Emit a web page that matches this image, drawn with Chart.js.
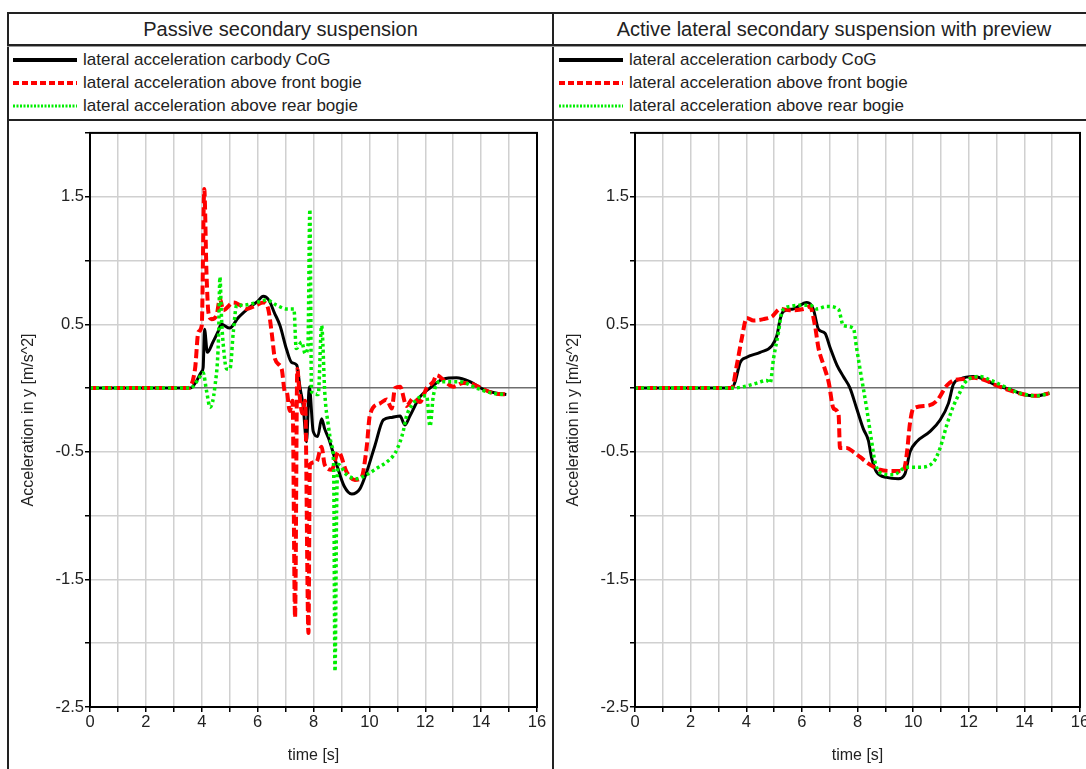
<!DOCTYPE html>
<html>
<head>
<meta charset="utf-8">
<script src="https://cdn.jsdelivr.net/npm/chart.js@4.4.1/dist/chart.umd.min.js"></script>
<style>
html, body { margin:0; padding:0; background:#fff; overflow:hidden; width:1086px; height:769px; }
body { position:relative; font-family:"Liberation Sans", Arial, sans-serif; color:#222; }
.ln { position:absolute; background:#222; }
.title { position:absolute; top:14px; height:30px; line-height:30px; text-align:center; font-size:20px; white-space:nowrap; }
.legend { position:absolute; top:48px; }
.legend .row { height:23px; font-size:17px; white-space:nowrap; display:flex; align-items:center; }
.legend svg { margin-right:6px; }
canvas { position:absolute; top:122px; }
</style>
</head>
<body>
<div class="ln" style="left:7px;top:12px;width:1100px;height:2px"></div>
<div class="ln" style="left:7px;top:12px;width:2px;height:800px"></div>
<div class="ln" style="left:552px;top:12px;width:2px;height:800px"></div>
<div class="ln" style="left:7px;top:44px;width:1100px;height:2px"></div>
<div class="ln" style="left:7px;top:46px;width:1100px;height:1px;background:#999"></div>
<div class="ln" style="left:7px;top:119px;width:1100px;height:2px"></div>

<div class="title" id="title0" style="left:9px;width:543px"></div>
<div class="title" id="title1" style="left:554px;width:560px"></div>
<div class="legend" id="legend0" style="left:13px"></div>
<div class="legend" id="legend1" style="left:559px"></div>

<canvas id="passive" width="542" height="647" style="left:10px;width:542px;height:647px"></canvas>
<canvas id="active" width="580" height="647" style="left:555px;width:580px;height:647px"></canvas>

<script>
// Подписи и оформление серий
var panelTitles = ['Passive secondary suspension', 'Active lateral secondary suspension with preview'];
var seriesNames = ['lateral acceleration carbody CoG', 'lateral acceleration above front bogie', 'lateral acceleration above rear bogie'];
var seriesColors = ['#000000', '#ff0000', '#00ee00'];

// Пассивная подвеска ----------------------------------------------------------------------------------------------
var passiveCogT = [0, 3.6, 3.8, 4.0, 4.05, 4.1, 4.2, 4.4, 4.58, 4.7, 5.0, 5.3, 5.7, 6.0, 6.2, 6.4, 6.6, 6.8, 7.04, 7.22, 7.4, 7.52, 7.63, 7.75, 7.85, 7.99, 8.15, 8.29, 8.4, 8.55, 8.83, 9.1, 9.37, 9.66, 9.9, 10.2, 10.5, 10.8, 11.1, 11.27, 11.45, 11.81, 12.17, 12.64, 13.12, 13.6, 14.08, 14.55, 14.9];
var passiveCogY = [0, 0, 0.05, 0.13, 0.16, 0.46, 0.28, 0.36, 0.44, 0.50, 0.47, 0.55, 0.63, 0.68, 0.72, 0.69, 0.59, 0.49, 0.30, 0.20, 0.18, 0.0, -0.14, -0.42, 0.01, -0.34, -0.38, -0.24, -0.32, -0.40, -0.60, -0.77, -0.83, -0.79, -0.66, -0.45, -0.25, -0.23, -0.22, -0.29, -0.22, -0.07, 0.0, 0.07, 0.08, 0.05, -0.01, -0.04, -0.05];

var passiveFrontT = [0, 3.5, 3.76, 3.88, 4.0, 4.09, 4.17, 4.24, 4.35, 4.53, 4.65, 4.77, 5.13, 5.37, 5.6, 5.96, 6.2, 6.38, 6.5, 6.62, 6.86, 6.98, 7.04, 7.15, 7.25, 7.34, 7.42, 7.5, 7.6, 7.7, 7.82, 7.87, 8.1, 8.29, 8.4, 8.65, 8.89, 9.19, 9.48, 9.72, 9.9, 10.02, 10.38, 10.62, 10.8, 10.92, 11.1, 11.33, 11.57, 11.81, 12.05, 12.29, 12.4, 12.77, 13.0, 13.36, 13.7, 14.0, 14.43, 14.9];
var passiveFrontY = [0, 0, 0.15, 0.44, 0.49, 1.56, 0.9, 0.59, 0.54, 0.57, 0.70, 0.61, 0.67, 0.65, 0.62, 0.65, 0.67, 0.62, 0.44, 0.23, 0.15, -0.03, -0.03, -0.18, -0.1, -1.80, 0.15, -0.05, -0.2, -0.1, -1.92, -0.60, -0.58, -0.46, -0.6, -0.64, -0.5, -0.66, -0.72, -0.70, -0.47, -0.21, -0.12, -0.09, -0.16, 0.0, 0.01, -0.14, -0.08, -0.11, 0.0, 0.05, 0.1, 0.04, 0.01, 0.04, 0.03, 0.0, -0.04, -0.05];

var passiveRearT = [0, 3.6, 3.88, 4.05, 4.17, 4.3, 4.47, 4.6, 4.65, 4.71, 4.77, 4.89, 5.01, 5.13, 5.25, 5.49, 5.96, 6.32, 6.68, 7.04, 7.3, 7.38, 7.58, 7.7, 7.8, 7.87, 7.93, 8.17, 8.29, 8.41, 8.53, 8.65, 8.72, 8.77, 8.83, 8.89, 9.19, 9.54, 9.9, 10.26, 10.62, 10.92, 11.1, 11.21, 11.33, 11.57, 11.81, 12.05, 12.17, 12.29, 12.53, 13.24, 13.83, 14.4, 14.9];
var passiveRearY = [0, 0, 0.07, 0.12, -0.02, -0.15, 0.01, 0.39, 0.87, 0.54, 0.34, 0.15, 0.15, 0.44, 0.65, 0.65, 0.67, 0.69, 0.65, 0.62, 0.62, 0.31, 0.36, 0.27, 0.33, 1.40, -0.03, -0.05, 0.49, -0.06, -0.29, -0.45, -0.6, -2.22, -0.9, -0.60, -0.68, -0.71, -0.68, -0.63, -0.58, -0.51, -0.42, -0.34, -0.22, -0.12, -0.07, -0.06, -0.30, -0.06, 0.05, 0.05, 0.0, -0.04, -0.05];

// Активная подвеска с предуправлением --------------------------------------------------------------------------------
var activeCogT = [0, 3.48, 3.6, 3.78, 4.0, 4.5, 4.92, 5.1, 5.22, 5.33, 5.69, 6.18, 6.41, 6.6, 6.83, 7.01, 7.26, 7.49, 7.73, 7.97, 8.21, 8.39, 8.51, 8.69, 9.05, 9.47, 9.71, 9.89, 10.13, 10.61, 10.97, 11.27, 11.45, 11.69, 12.17, 12.53, 13.01, 13.49, 13.97, 14.45, 14.9];
var activeCogY = [0, 0, 0.05, 0.2, 0.24, 0.28, 0.33, 0.41, 0.54, 0.6, 0.62, 0.67, 0.62, 0.46, 0.43, 0.32, 0.18, 0.09, 0.0, -0.16, -0.32, -0.41, -0.55, -0.66, -0.70, -0.71, -0.67, -0.5, -0.42, -0.34, -0.25, -0.12, 0.03, 0.07, 0.09, 0.07, 0.02, -0.01, -0.05, -0.06, -0.04];

var activeFrontT = [0, 3.48, 3.66, 3.84, 4.02, 4.26, 4.62, 4.92, 5.22, 5.57, 6.06, 6.29, 6.47, 6.6, 6.78, 6.96, 7.14, 7.32, 7.37, 7.61, 7.85, 8.09, 8.45, 8.81, 9.29, 9.65, 9.77, 9.89, 10.01, 10.49, 10.85, 11.21, 11.45, 11.8, 12.2, 12.6, 13.0, 13.5, 14.0, 14.45, 14.9];
var activeFrontY = [0, 0, 0.18, 0.39, 0.55, 0.53, 0.54, 0.56, 0.62, 0.61, 0.62, 0.64, 0.49, 0.31, 0.18, 0.05, -0.16, -0.21, -0.47, -0.47, -0.50, -0.54, -0.60, -0.64, -0.65, -0.65, -0.52, -0.27, -0.16, -0.14, -0.10, 0.02, 0.06, 0.07, 0.08, 0.06, 0.02, -0.02, -0.05, -0.06, -0.04];

var activeRearT = [0, 3.48, 3.9, 4.4, 4.74, 4.86, 4.98, 5.16, 5.28, 5.58, 5.94, 6.3, 6.53, 6.9, 7.31, 7.49, 7.85, 7.97, 8.09, 8.33, 8.51, 8.63, 8.87, 9.29, 9.77, 10.25, 10.73, 10.97, 11.21, 11.45, 11.69, 11.85, 12.41, 12.8, 13.2, 13.6, 14.0, 14.45, 14.9];
var activeRearY = [0, 0, 0.01, 0.04, 0.06, 0.04, 0.23, 0.44, 0.60, 0.64, 0.65, 0.65, 0.62, 0.64, 0.62, 0.49, 0.47, 0.31, 0.15, -0.16, -0.42, -0.58, -0.67, -0.68, -0.62, -0.62, -0.58, -0.47, -0.29, -0.14, -0.03, 0.04, 0.09, 0.06, 0.02, -0.02, -0.05, -0.06, -0.04];

var fontFamily = '"Liberation Sans", Arial, sans-serif';
var lineWidths = [3, 4, 3.5];
var lineDashes = [[], [9, 4], [3, 3]];
var legendDashes = ['', '6,3', '2,1.5'];

function points(t, v) {
    return t.map(function (x, i) { return {x: x, y: v[i]}; });
}

// Заголовки и легенды ---------------------------------------------------------------------------------------------
[0, 1].forEach(function (p) {
    document.getElementById('title' + p).textContent = panelTitles[p];
    var box = document.getElementById('legend' + p);
    seriesNames.forEach(function (name, i) {
        var row = document.createElement('div');
        row.className = 'row';
        row.innerHTML = '<svg width="64" height="8"><line x1="0" y1="4" x2="64" y2="4" stroke="' + seriesColors[i] +
            '" stroke-width="' + (i === 2 ? 3 : 4) + '"' + (legendDashes[i] ? ' stroke-dasharray="' + legendDashes[i] + '"' : '') +
            '/></svg><span>' + name + '</span>';
        box.appendChild(row);
    });
});

// Рамка вокруг области графика
var framePlugin = {
    id: 'frame',
    afterDraw: function (chart) {
        var a = chart.chartArea, ctx = chart.ctx;
        ctx.save();
        ctx.strokeStyle = '#000';
        ctx.lineWidth = 2;
        ctx.strokeRect(a.left, a.top, a.right - a.left, a.bottom - a.top);
        ctx.restore();
    }
};

function makeChart(id, series, rightPad) {
    var ctx = document.getElementById(id).getContext('2d');
    return new Chart(ctx, {
        type: 'line',
        data: {
            datasets: series.map(function (s, i) {
                return {
                    label: seriesNames[i],
                    data: points(s[0], s[1]),
                    borderColor: seriesColors[i],
                    borderWidth: lineWidths[i],
                    borderDash: lineDashes[i],
                    pointRadius: 0,
                    cubicInterpolationMode: 'monotone',
                    fill: false,
                    order: 3 - i
                };
            })
        },
        options: {
            responsive: false,
            animation: false,
            devicePixelRatio: 1,
            layout: {padding: {top: 9, right: rightPad, left: 0, bottom: 0}},
            plugins: {legend: {display: false}, tooltip: {enabled: false}},
            scales: {
                x: {
                    type: 'linear', min: 0, max: 16,
                    afterFit: function (s) { s.height = 62; },
                    ticks: {
                        stepSize: 1, autoSkip: false, maxRotation: 0, padding: 1, color: '#222',
                        font: {family: fontFamily, size: 16.5},
                        callback: function (v) { return v % 2 === 0 ? String(v) : ''; }
                    },
                    grid: {color: '#d0d0d0', lineWidth: 1.5, tickLength: 5, tickColor: '#000', tickWidth: 1.5},
                    border: {color: '#000', width: 2},
                    title: {display: true, text: 'time [s]', color: '#222', font: {family: fontFamily, size: 16}, padding: {top: 0, bottom: 4}}
                },
                y: {
                    type: 'linear', min: -2.5, max: 2,
                    afterFit: function (s) { s.width = 80; },
                    ticks: {
                        stepSize: 0.5, autoSkip: false, padding: 1, color: '#222',
                        font: {family: fontFamily, size: 16.5},
                        callback: function (v) { return Math.abs(Math.round(v * 2)) % 2 === 1 ? v.toFixed(1) : ''; }
                    },
                    grid: {
                        color: function (c) { return c.tick && c.tick.value === 0 ? '#6e6e6e' : '#d0d0d0'; },
                        lineWidth: 1.5, tickLength: 5, tickColor: '#000', tickWidth: 1.5
                    },
                    border: {color: '#000', width: 2},
                    title: {display: true, text: 'Acceleration in y [m/s^2]', color: '#222', font: {family: fontFamily, size: 16}, padding: {top: 9, bottom: 0}}
                }
            }
        },
        plugins: [framePlugin]
    });
}

makeChart('passive', [[passiveCogT, passiveCogY], [passiveFrontT, passiveFrontY], [passiveRearT, passiveRearY]], 15);
makeChart('active', [[activeCogT, activeCogY], [activeFrontT, activeFrontY], [activeRearT, activeRearY]], 55);
</script>
</body>
</html>
